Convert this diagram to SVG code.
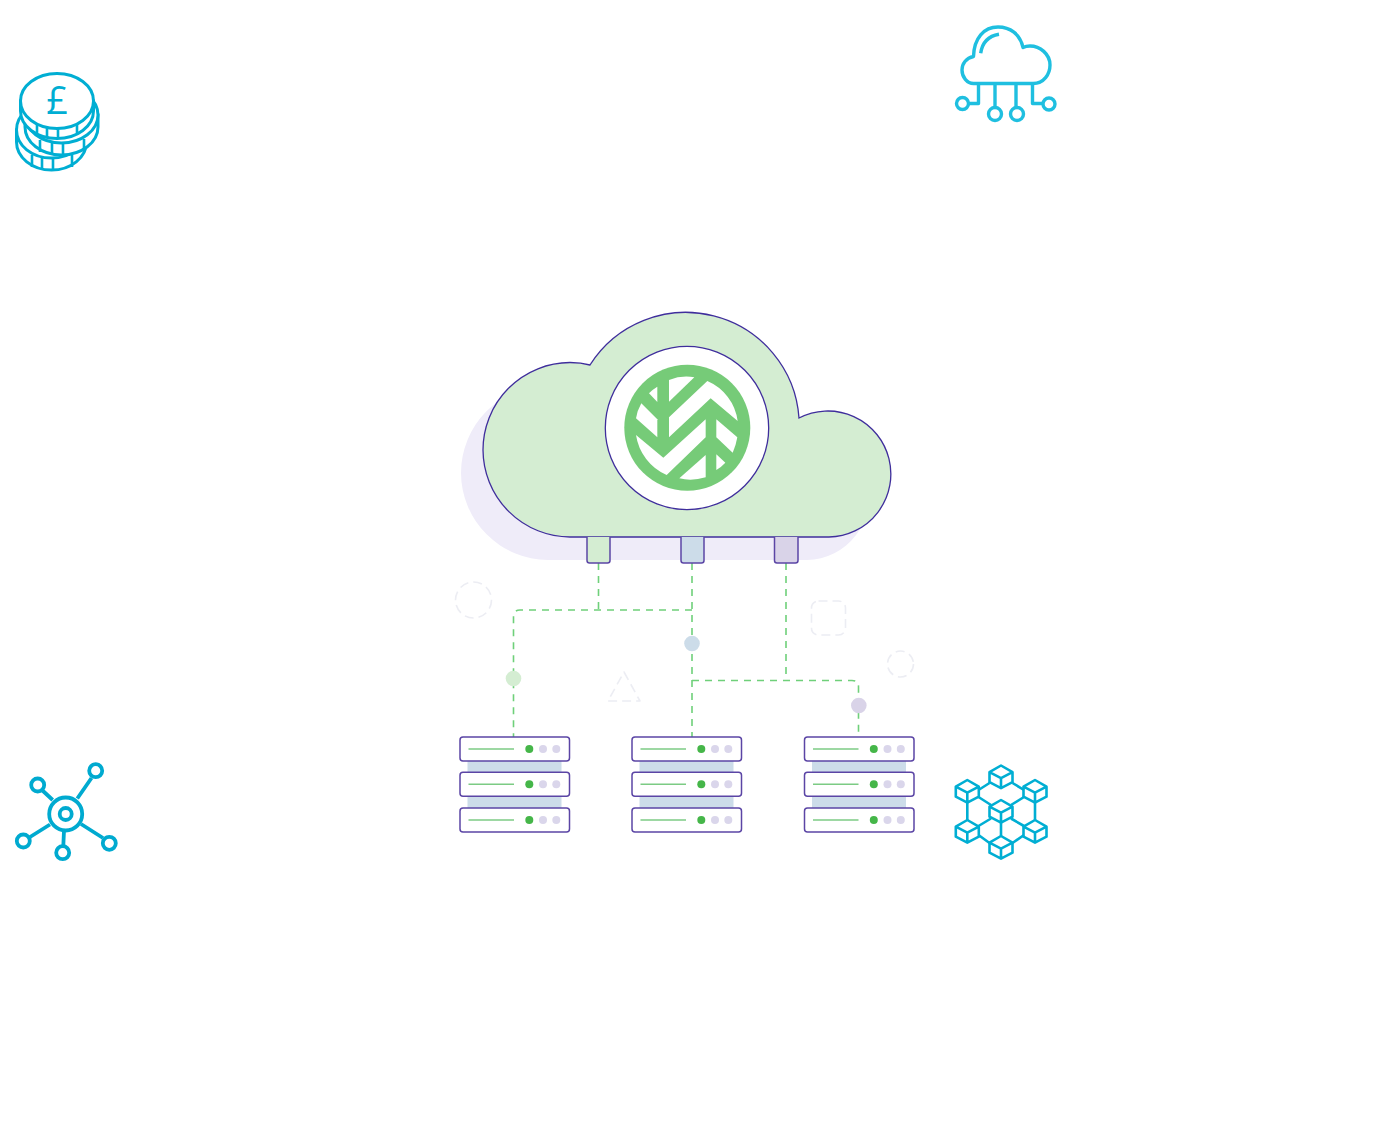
<svg xmlns="http://www.w3.org/2000/svg" width="1374" height="1144" viewBox="0 0 1374 1144">
  <style>
    .coin { fill: #fff; stroke: #00aed3; stroke-width: 3; }
    .tick { fill: none; stroke: #00aed3; stroke-width: 2.6; }
    .sky { fill: none; stroke: #1fbfe0; stroke-width: 3.400; stroke-linejoin: round; }
    .net { fill: none; stroke: #00aad0; stroke-width: 3.800; }
    .cube { fill: none; stroke: #00aed3; stroke-width: 2.600; stroke-linejoin: round; }
    .dash { fill: none; stroke: #6fd07a; stroke-width: 1.600; stroke-dasharray: 7 6; }
    .ghost { fill: none; stroke: #ecedf3; stroke-width: 1.600; stroke-dasharray: 9 5; }
    .unit { fill: #fff; stroke: #5b45a5; stroke-width: 1.500; }
    .port { stroke: #5b45a5; stroke-width: 1.500; }
    .bay { fill: #ccdce9; }
    .meter { stroke: #7ccb84; stroke-width: 1.500; }
    .on { fill: #45b649; }
    .off { fill: #dad6eb; }
    .pound { font-family: "Open Sans", "Liberation Sans", sans-serif; font-weight: 400; font-size: 38px; fill: #00aed3; }
  </style>
  <defs>
    <path id="cloud-shape" d="M570 537A87.500 87.500 0 0 1 483 450A87.500 87.500 0 0 1 570 362.500Q581 362.500 590 365A113.500 113.500 0 0 1 799 418A63 63 0 1 1 829 537Z"/>
    <g id="rack">
      <rect class="bay" x="7.500" y="24" width="94" height="11"/>
      <rect class="bay" x="7.500" y="59" width="94" height="12"/>
      <g id="rack-unit">
        <rect class="unit" x="0" y="0" width="109.500" height="24" rx="3"/>
        <line class="meter" x1="8.500" y1="12" x2="54" y2="12"/>
        <circle class="on" cx="69.300" cy="12" r="4"/>
        <circle class="off" cx="83" cy="12" r="4"/>
        <circle class="off" cx="96.300" cy="12" r="4"/>
      </g>
      <use href="#rack-unit" y="35.300"/>
      <use href="#rack-unit" y="71"/>
    </g>
    <path id="block" class="cube" d="M0 0L11.500 6.700V16.700L0 22.700L-11.500 16.700V6.700ZM-11.500 6.700L0 12.700L11.500 6.700M0 12.700V22.700"/>
  </defs>

  <g id="coins-icon">
    <path class="coin" d="M16.500 130V142A35 28 0 0 0 86.500 142V130Z"/>
    <ellipse class="coin" cx="51.500" cy="130" rx="35" ry="28"/>
    <path class="tick" d="M32 155V167M42 157V169M53 158V170M72 155V167"/>
    <path class="coin" d="M25 115V127A36.500 28 0 0 0 98 127V115Z"/>
    <ellipse class="coin" cx="61.500" cy="115" rx="36.500" ry="28"/>
    <path class="tick" d="M40 140V152M52 143V155M63 143V155M84 139V150"/>
    <path class="coin" d="M20.500 101V111A36.500 27.500 0 0 0 93.500 111V101Z"/>
    <ellipse class="coin" cx="57" cy="101" rx="36.500" ry="27.500"/>
    <path class="tick" d="M37 124V135M47 127V137M58 128V138M77 124V134"/>
    <text class="pound" x="57" y="114" text-anchor="middle">£</text>
  </g>

  <g id="cloud-network-icon">
    <path class="sky" d="M973.500 83.500H1033C1044 83.500 1050 74 1050 65C1050 54 1040 46 1030 46Q1026 46 1023 47.500C1020 34 1010 27 998 27C984 27 974 38 973.500 56.500C966 58 962 64 962 70C962 77 967 83.500 973.500 83.500Z"/>
    <path class="sky" d="M980.700 53.300Q983 37 999 34.300"/>
    <path class="sky" d="M978.500 83.500V103.500H969M995 83.500V107.500M1016 83.500V107.500M1032.500 83.500V103.500H1042"/>
    <circle class="sky" cx="962.500" cy="103.500" r="6"/>
    <circle class="sky" cx="995" cy="114" r="6.500"/>
    <circle class="sky" cx="1017" cy="114" r="6.500"/>
    <circle class="sky" cx="1049" cy="104" r="6"/>
  </g>

  <g id="hub-icon">
    <circle class="net" cx="65.700" cy="814" r="16.500"/>
    <circle class="net" cx="65.700" cy="814" r="6"/>
    <circle class="net" cx="37.700" cy="785" r="6.500"/>
    <circle class="net" cx="95.700" cy="770.700" r="6.500"/>
    <circle class="net" cx="23.300" cy="841" r="6.500"/>
    <circle class="net" cx="62.700" cy="852.700" r="6.500"/>
    <circle class="net" cx="109.300" cy="843.300" r="6.500"/>
    <path class="net" d="M52.700 800L42.500 790.500M77.300 798.500L91.500 778M50 824.500L30 837M64 830.500L63.300 846M81 824L103 838"/>
  </g>

  <g id="blocks-icon">
    <use href="#block" x="1001" y="765.500"/>
    <use href="#block" x="967.300" y="780"/>
    <use href="#block" x="1035" y="780"/>
    <use href="#block" x="1001" y="800"/>
    <use href="#block" x="967.300" y="820"/>
    <use href="#block" x="1035" y="820"/>
    <use href="#block" x="1001" y="836"/>
    <path class="cube" d="M989.500 783L978.500 790M1012.500 783L1024 790M978.500 797L991 805M1024 797L1011 805M967.300 802.700V820M1035 802.700V820M1001 822.700V836M991 818.500L978.500 826M1011 818.500L1024 826M978.500 835L989.500 843M1024 835L1012.500 843"/>
  </g>

  <g id="connectors">
    <path class="dash" d="M598.500 563V610"/>
    <path class="dash" d="M692 610H520Q513.500 610 513.500 616.500V737"/>
    <path class="dash" d="M692 563V737"/>
    <path class="dash" d="M786 563V680.500"/>
    <path class="dash" d="M692 680.500H852Q858.500 680.500 858.500 687V737"/>
  </g>

  <g id="hub-dots">
    <circle cx="513.500" cy="678.500" r="7.800" fill="#d4edd2"/>
    <circle cx="692" cy="643.500" r="7.800" fill="#ccdce9"/>
    <circle cx="858.800" cy="705.500" r="7.800" fill="#d9d3e8"/>
  </g>

  <g id="faint-shapes">
    <circle class="ghost" cx="473.500" cy="600" r="18"/>
    <path class="ghost" d="M624 672L640 701H608Z" stroke-linejoin="round"/>
    <rect class="ghost" x="811.500" y="601" width="34" height="34" rx="7"/>
    <circle class="ghost" cx="900.500" cy="664" r="13"/>
  </g>

  <g id="cloud">
    <use href="#cloud-shape" x="-22" y="23" fill="#efecf9"/>
    <use href="#cloud-shape" fill="#d4edd2" stroke="#3f2e9c" stroke-width="1.300"/>
    <path class="port" d="M587 537V560.500Q587 563 589.500 563H607.500Q610 563 610 560.500V537" fill="#d4edd2"/>
    <path class="port" d="M681 537V560.500Q681 563 683.500 563H701.500Q704 563 704 560.500V537" fill="#ccdce9"/>
    <path class="port" d="M774.500 537V560.500Q774.500 563 777 563H795.500Q798 563 798 560.500V537" fill="#d9d3e8"/>
  </g>

  <g id="logo">
    <circle cx="687" cy="428" r="81.700" fill="#fff" stroke="#3f2e9c" stroke-width="1.300"/>
    <circle cx="687.300" cy="427.800" r="63" fill="#76cb78"/>
    <g transform="translate(600 340) scale(.33333)" fill="#fff">
      <path d="M172 140V186L147 160Q158 148 172 140Z"/>
      <path d="M207 120Q245 105 283 112L207 185Z"/>
      <path d="M124 190L172 238V292L108 235Q112 211 124 190Z"/>
      <path d="M207 232L322 123A152 152 0 0 1 413 243L332 175L207 292Z"/>
      <path d="M349 238L412 292Q408 316 398 338L349 292Z"/>
      <path d="M349 343L376 368Q364 381 349 390Z"/>
      <path d="M108 285L190 353L317 238V292L200 405A156 156 0 0 1 108 285Z"/>
      <path d="M317 345V412Q275 425 238 415Z"/>
    </g>
  </g>

  <g id="server-left"><use href="#rack" x="460" y="737"/></g>
  <g id="server-middle"><use href="#rack" x="632" y="737"/></g>
  <g id="server-right"><use href="#rack" x="804.500" y="737"/></g>
</svg>
